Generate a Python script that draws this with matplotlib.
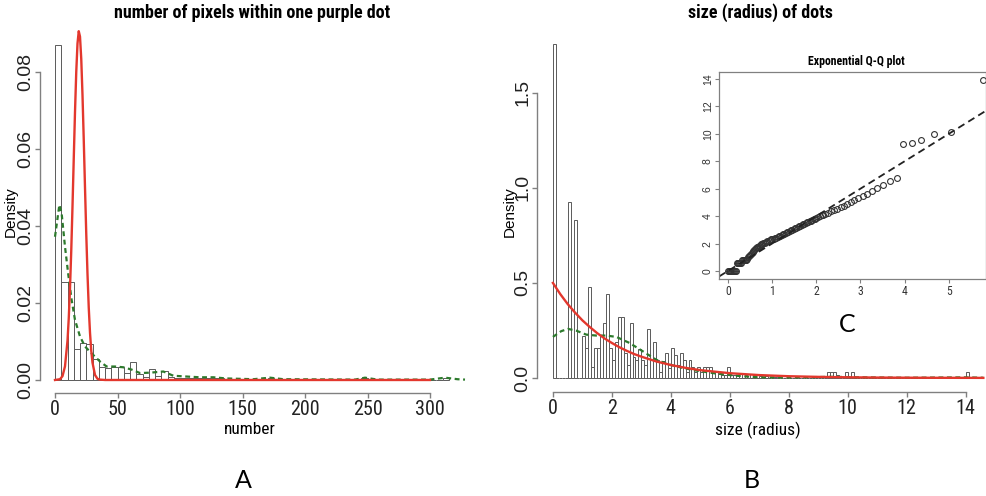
import matplotlib.pyplot as plt
import numpy as np
from matplotlib import font_manager as fm

# narrow font for horizontal text if one is installed (R output in the reference is squeezed)
installed = {f.name for f in fm.fontManager.ttflist}
narrow = next((n for n in ['Liberation Sans Narrow', 'Roboto Condensed', 'Noto Sans Condensed',
                           'Open Sans Condensed'] if n in installed), None)
dejavu_cond = any(f.name == 'DejaVu Sans' and f.stretch == 'condensed' for f in fm.fontManager.ttflist)
if narrow:
    plt.rcParams['font.family'] = [narrow, 'DejaVu Sans']
    sz = 1.0
elif dejavu_cond:
    plt.rcParams['font.family'] = ['DejaVu Sans']
    plt.rcParams['font.stretch'] = 'condensed'
    sz = 0.95
else:
    plt.rcParams['font.family'] = ['Liberation Sans', 'DejaVu Sans']
    sz = 0.87
WIDE = ['Liberation Sans', 'DejaVu Sans']

W, H = 986, 496

# --- A: number of pixels within one purple dot (histogram, bin width 5) ---
pix_bin_w = 5
pix_bin_left = [0, 5, 10, 15, 20, 25, 30, 35, 40, 45, 50, 55, 60, 65, 70, 75, 80, 85,
                90, 95, 100, 105, 110, 115, 120, 125, 130, 170, 245, 310]
pix_density = [0.087, 0.0255, 0.0255, 0.0080, 0.0097, 0.0093, 0.0054, 0.0035, 0.0030,
               0.0034, 0.0034, 0.0017, 0.0047, 0.0015, 0.0008, 0.0028, 0.0010, 0.0023,
               0.0008, 0.0006, 0.0006, 0.0004, 0.0004, 0.0006, 0.0006, 0.0004, 0.0006,
               0.0004, 0.0004, 0.0004]
pix_max = 315
# fitted normal curve (red)
pix_norm_x = [0, 4, 6, 8, 10, 11, 12, 13, 14, 15, 16, 17, 18, 19, 20, 21, 22, 23, 24,
              25, 26, 27, 28, 29, 30, 32, 34, 36, 40, 300]
pix_norm_y = [0, 0.0002, 0.0010, 0.00355, 0.0102, 0.0160, 0.0238, 0.0336, 0.0451,
              0.0575, 0.0696, 0.0800, 0.0874, 0.0906, 0.0892, 0.0834, 0.0740, 0.0624,
              0.0500, 0.0380, 0.0275, 0.0188, 0.0123, 0.0076, 0.0045, 0.0013, 0.0003,
              0.0001, 0, 0]
# kernel density (green dashed)
pix_kde_x = [0, 3.5, 5.3, 8, 10.7, 13.3, 16, 20, 24, 29.3, 36, 41.3, 48, 54.7, 61.3, 68,
             76, 86.7, 94.7, 105, 116, 126.7, 137, 158.7, 172, 182.7, 240, 248, 258,
             300, 312, 322, 328]
pix_kde_y = [0.0372, 0.0455, 0.0433, 0.0346, 0.0272, 0.0208, 0.0156, 0.0113, 0.0087,
             0.0069, 0.0048, 0.0035, 0.0035, 0.0033, 0.0027, 0.0018, 0.0019, 0.0022,
             0.0011, 0.0009, 0.0007, 0.0007, 0.0004, 0.0002, 0.0006, 0.0002, 0.0001,
             0.0006, 0.0001, 0.0001, 0.0006, 0.0002, 0.0001]

# --- B: size (radius) of dots (histogram, bin width 0.1) ---
rad_bin_w = 0.1
rad_bin_left = [0.0, 0.5, 0.7, 1.0, 1.1, 1.2, 1.3, 1.4, 1.5, 1.6, 1.7, 1.8, 1.9, 2.0,
                2.1, 2.2, 2.3, 2.4, 2.5, 2.6, 2.7, 2.8, 2.9, 3.0, 3.1, 3.2, 3.3, 3.4,
                3.5, 3.6, 3.7, 3.8, 3.9, 4.0, 4.1, 4.2, 4.3, 4.4, 4.5, 4.6, 4.7, 4.8,
                4.9, 5.0, 5.1, 5.2, 5.3, 5.4, 5.5, 5.6, 5.7, 5.8, 5.9, 6.0, 6.1, 6.3,
                6.4, 6.5, 6.7, 6.8, 7.0, 7.2, 7.5, 9.3, 9.4, 9.5, 9.6, 9.9, 10.1, 14.0]
rad_density = [1.76, 0.925, 0.83, 0.22, 0.16, 0.48, 0.06, 0.16, 0.16, 0.22, 0.29, 0.44,
               0.155, 0.095, 0.19, 0.32, 0.32, 0.13, 0.07, 0.29, 0.11, 0.095, 0.15,
               0.095, 0.07, 0.255, 0.095, 0.19, 0.095, 0.03, 0.09, 0.13, 0.05, 0.16,
               0.12, 0.07, 0.13, 0.095, 0.03, 0.095, 0.06, 0.03, 0.06, 0.03, 0.06, 0.06,
               0.06, 0.03, 0.03, 0.03, 0.015, 0.015, 0.06, 0.015, 0.015, 0.02, 0.02,
               0.015, 0.02, 0.015, 0.01, 0.01, 0.005, 0.03, 0.03, 0.03, 0.015, 0.03,
               0.03, 0.03]
rad_max = 14.1
# fitted exponential curve (red)
rad_exp_x = [0, 0.25, 0.5, 0.75, 1.0, 1.25, 1.5, 1.75, 2.0, 2.25, 2.5, 2.75, 3.0, 3.5,
             4.0, 4.5, 5.0, 6.0, 7.0, 8.0, 9.0, 10.0, 11.0, 12.0, 13.0, 14.6]
rad_exp_y = [0.500, 0.441, 0.389, 0.344, 0.303, 0.268, 0.236, 0.208, 0.184, 0.162,
             0.143, 0.126, 0.112, 0.087, 0.068, 0.053, 0.041, 0.025, 0.015, 0.009,
             0.0056, 0.0034, 0.002, 0.0012, 0.0008, 0.0003]
# kernel density (green dashed)
rad_kde_x = [0, 0.28, 0.51, 0.79, 1.13, 1.47, 1.81, 2.15, 2.6, 3.05, 3.5, 3.95, 4.4,
             4.86, 5.54, 6.2, 6.9, 8.0, 9.5, 10.5, 12.0, 14.0, 14.6]
rad_kde_y = [0.216, 0.246, 0.258, 0.249, 0.228, 0.223, 0.223, 0.216, 0.184, 0.14,
             0.096, 0.07, 0.053, 0.039, 0.023, 0.012, 0.004, 0.002, 0.006, 0.003,
             0.001, 0.003, 0.001]

# --- C: exponential Q-Q plot ---
qq_theor = [0.00, 0.02, 0.04, 0.06, 0.08, 0.10, 0.12, 0.14, 0.16, 0.18,
            0.20, 0.22, 0.24, 0.26, 0.28, 0.30, 0.32, 0.34, 0.36, 0.38, 0.40, 0.42,
            0.44, 0.46, 0.48, 0.50, 0.52, 0.54, 0.56, 0.58, 0.60, 0.62, 0.64, 0.66,
            0.68, 0.70, 0.72, 0.74, 0.76, 0.78, 0.80, 0.83, 0.86, 0.89, 0.92, 0.95,
            0.98, 1.01, 1.04, 1.07, 1.10, 1.13, 1.16, 1.19, 1.22, 1.25, 1.28, 1.31,
            1.34, 1.37, 1.40, 1.43, 1.46, 1.49, 1.52, 1.55, 1.58, 1.61, 1.64, 1.67,
            1.70, 1.73, 1.76, 1.79, 1.82, 1.85, 1.88, 1.91, 1.94, 1.97, 2.00, 2.04,
            2.08, 2.12, 2.16, 2.20, 2.27, 2.34, 2.41, 2.48, 2.55, 2.62, 2.70, 2.78,
            2.86, 2.95, 3.05, 3.15, 3.26, 3.38, 3.51, 3.66, 3.83, 3.96, 4.17, 4.38,
            4.66, 5.05, 5.77]
qq_sample = [0, 0, 0, 0, 0, 0, 0, 0, 0, 0,
             0.56, 0.56, 0.56, 0.56, 0.56, 0.56, 0.80, 0.80, 0.80, 0.80, 0.80, 0.80,
             0.90, 1.00, 1.10, 1.18, 1.26, 1.33, 1.40, 1.48, 1.56, 1.62, 1.69, 1.75,
             1.78, 1.80, 1.84, 1.90, 1.95, 1.98, 2.02, 2.06, 2.12, 2.17, 2.22, 2.26,
             2.30, 2.34, 2.37, 2.41, 2.44, 2.49, 2.53, 2.58, 2.63, 2.68, 2.73, 2.78,
             2.83, 2.88, 2.92, 2.96, 3.01, 3.06, 3.11, 3.16, 3.21, 3.26, 3.31, 3.36,
             3.41, 3.46, 3.51, 3.55, 3.59, 3.63, 3.68, 3.73, 3.77, 3.81, 3.86, 3.92,
             3.98, 4.05, 4.11, 4.16, 4.25, 4.35, 4.45, 4.54, 4.64, 4.75, 4.86, 5.00,
             5.14, 5.30, 5.45, 5.62, 5.80, 6.02, 6.30, 6.55, 6.80, 9.25, 9.30, 9.55,
             9.95, 10.15, 13.9]
qq_slope = 2.0

RED = '#e3372d'
GREEN = '#2c7a2c'
EDGE = '#5a5a5a'
SPINE = '#808080'


def rect(x0, y0, x1, y1):
    # pixel box -> figure fraction
    return [x0 / W, 1 - y1 / H, (x1 - x0) / W, (y1 - y0) / H]


def full_grid(left, dens, width, top):
    edges = np.arange(0, top - width / 2, width)
    vals = np.zeros(len(edges))
    lookup = {round(l / width): d for l, d in zip(left, dens)}
    for i in range(len(edges)):
        vals[i] = lookup.get(i, 0.0)
    return edges, vals


def r_style(ax, xb, yb):
    for s in ['top', 'right']:
        ax.spines[s].set_visible(False)
    for s in ['left', 'bottom']:
        ax.spines[s].set_color(SPINE)
        ax.spines[s].set_linewidth(1.0)
    ax.spines['bottom'].set_bounds(*xb)
    ax.spines['left'].set_bounds(*yb)
    ax.tick_params(direction='out', length=3.5, width=1.0, color=SPINE, labelcolor='#222222')
    ax.tick_params(axis='x', labelsize=14.5 * sz, pad=1.5)
    ax.tick_params(axis='y', labelsize=14, pad=0.5)
    for t in ax.get_yticklabels():
        t.set_rotation(90)
        t.set_va('center')
        t.set_family(WIDE)
    ax.set_facecolor('none')


fig = plt.figure(figsize=(W / 100, H / 100), dpi=100)

# panel A
axA = fig.add_axes(rect(40, 25.8, 473.75, 393))
e, v = full_grid(pix_bin_left, pix_density, pix_bin_w, pix_max)
axA.bar(e, v, width=pix_bin_w, align='edge', facecolor='white', edgecolor=EDGE, linewidth=0.7)
axA.plot(pix_kde_x, pix_kde_y, color=GREEN, lw=1.6, ls=(0, (2.2, 1.6)))
axA.plot(pix_norm_x, pix_norm_y, color=RED, lw=1.7)
axA.set_xlim(-12, 335)
axA.set_ylim(-0.00338, 0.092)
axA.set_xticks([0, 50, 100, 150, 200, 250, 300])
axA.set_yticks([0, 0.02, 0.04, 0.06, 0.08])
axA.set_yticklabels(['0.00', '0.02', '0.04', '0.06', '0.08'])
r_style(axA, (0, 300), (0, 0.08))

# panel B
axB = fig.add_axes(rect(537, 34, 986, 392))
e, v = full_grid(rad_bin_left, rad_density, rad_bin_w, rad_max)
axB.bar(e, v, width=rad_bin_w, align='edge', facecolor='white', edgecolor=EDGE, linewidth=0.7)
axB.plot(rad_kde_x, rad_kde_y, color=GREEN, lw=1.6, ls=(0, (2.2, 1.6)))
axB.plot(rad_exp_x, rad_exp_y, color=RED, lw=1.7)
axB.set_xlim(-0.54, 14.69)
axB.set_ylim(-0.074, 1.81)
axB.set_xticks(range(0, 15, 2))
axB.set_yticks([0, 0.5, 1.0, 1.5])
axB.set_yticklabels(['0.0', '0.5', '1.0', '1.5'])
r_style(axB, (0, 14), (0, 1.5))

# panel C (inset)
axC = fig.add_axes(rect(719, 72, 986, 279))
axC.set_facecolor('white')
axC.plot(qq_theor, qq_sample, 'o', ms=4.2, mfc='none', mec='#333333', mew=0.8)
axC.axline((0, 0), slope=qq_slope, color='#222222', lw=1.3, ls=(0, (4, 2.5)))
axC.set_xlim(-0.2, 5.84)
axC.set_ylim(-0.58, 14.5)
axC.set_xticks(range(0, 6))
axC.set_yticks(range(0, 15, 2))
for s in axC.spines.values():
    s.set_color(SPINE)
    s.set_linewidth(0.9)
axC.tick_params(direction='out', length=3, width=0.8, color=SPINE, labelsize=8.5 * sz,
                labelcolor='#333333', pad=1.5)
for t in axC.get_yticklabels():
    t.set_rotation(90)
    t.set_va('center')
    t.set_family(WIDE)
    t.set_fontsize(7.5)

# texts
fig.text(252 / W, 1 - 13 / H, 'number of pixels within one purple dot', ha='center', va='center',
         fontsize=13 * sz, fontweight='bold')
fig.text(760 / W, 1 - 13 / H, 'size (radius) of dots', ha='center', va='center',
         fontsize=13 * sz, fontweight='bold')
fig.text(856 / W, 1 - 61 / H, 'Exponential Q-Q plot', ha='center', va='center',
         fontsize=8.5 * sz, fontweight='bold')
fig.text(250 / W, 1 - 430 / H, 'number', ha='center', va='center', fontsize=12.5 * sz)
fig.text(758 / W, 1 - 430 / H, 'size (radius)', ha='center', va='center', fontsize=12.5 * sz)
fig.text(11 / W, 1 - 212 / H, 'Density', ha='center', va='center', rotation=90, fontsize=11,
         family=WIDE)
fig.text(510 / W, 1 - 212 / H, 'Density', ha='center', va='center', rotation=90, fontsize=11,
         family=WIDE)
for lab, x, y in [('A', 243, 481), ('B', 752, 481), ('C', 847, 325)]:
    fig.text(x / W, 1 - y / H, lab, ha='center', va='center', fontsize=18,
             family=['Lato', 'DejaVu Sans'])

fig.savefig('out.png', dpi=100)
